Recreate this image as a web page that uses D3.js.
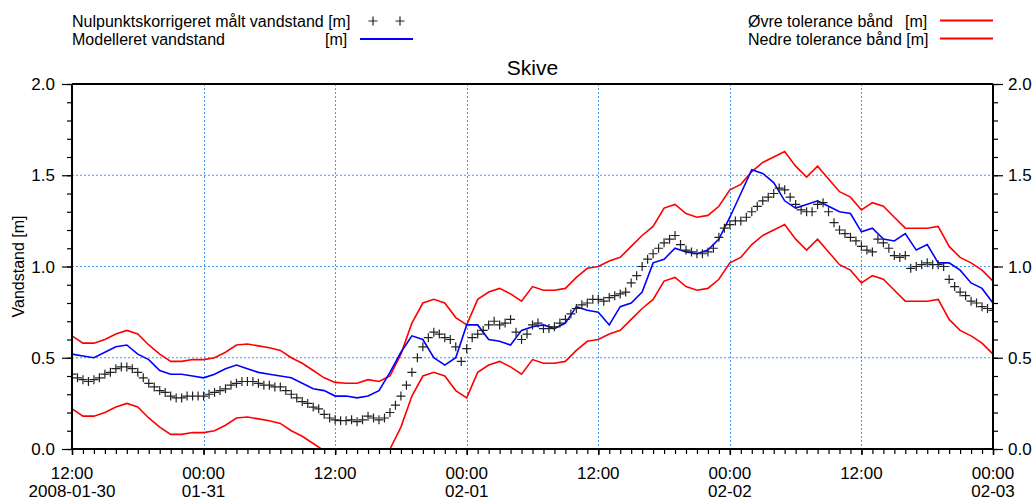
<!DOCTYPE html>
<html><head><meta charset="utf-8">
<script src="https://cdn.jsdelivr.net/npm/d3@7"></script>
<style>
html,body{margin:0;padding:0;background:#fff;}
svg text{font-family:"Liberation Sans",Arial,sans-serif;fill:#000;}
</style></head>
<body><svg id="chart" width="1036" height="502"></svg>
<script>
// ---- data ----
const title = "Skive";
const yLabel = "Vandstand [m]";
const startTime = "2008-01-30T12:00:00";
const endTime = "2008-02-03T00:00:00";
const lineStepHours = 1;      // hourly readings for lines
const measuredStepHours = 0.5; // half-hourly readings for measured points
const legendLabels = ["Nulpunktskorrigeret målt vandstand [m]", "Modelleret vandstand", "Øvre tolerance bånd", "Nedre tolerance bånd [m]"];
const yTickLabels = ["0.0","0.5","1.0","1.5","2.0"];

const upperBand = [0.62,0.58,0.58,0.60,0.63,0.65,0.63,0.57,0.52,0.48,0.48,0.49,0.49,0.50,0.53,0.57,0.575,0.565,0.555,0.54,
0.50,0.47,0.43,0.39,0.365,0.36,0.36,0.38,0.37,0.40,0.52,0.69,0.80,0.82,0.80,0.72,0.68,0.82,0.86,0.88,
0.85,0.81,0.89,0.87,0.87,0.88,0.94,0.99,1.00,1.03,1.05,1.11,1.17,1.22,1.32,1.34,1.29,1.27,1.28,1.33,
1.42,1.45,1.52,1.57,1.60,1.63,1.55,1.49,1.55,1.48,1.41,1.38,1.31,1.35,1.33,1.27,1.21,1.21,1.21,1.22,
1.11,1.05,1.02,0.98,0.92];
const lowerBand = [0.22,0.18,0.18,0.20,0.23,0.25,0.23,0.17,0.12,0.08,0.08,0.09,0.09,0.10,0.13,0.17,0.175,0.165,0.155,0.14,
0.10,0.07,0.03,-0.01,-0.035,-0.04,-0.04,-0.02,-0.03,0.00,0.12,0.29,0.40,0.42,0.40,0.32,0.28,0.42,0.46,0.48,
0.45,0.41,0.49,0.47,0.47,0.48,0.54,0.59,0.60,0.63,0.65,0.71,0.77,0.82,0.92,0.94,0.89,0.87,0.88,0.93,
1.02,1.05,1.12,1.17,1.20,1.23,1.15,1.09,1.15,1.08,1.01,0.98,0.91,0.95,0.93,0.87,0.81,0.81,0.81,0.82,
0.71,0.65,0.62,0.58,0.52];
const modelled = [0.52,0.51,0.50,0.53,0.56,0.57,0.52,0.49,0.43,0.41,0.41,0.40,0.39,0.41,0.44,0.46,0.44,0.42,0.41,0.40,
0.39,0.36,0.33,0.32,0.29,0.29,0.28,0.29,0.32,0.42,0.53,0.62,0.60,0.50,0.46,0.50,0.68,0.68,0.60,0.59,
0.57,0.65,0.67,0.68,0.66,0.69,0.78,0.76,0.75,0.68,0.78,0.80,0.86,1.02,1.04,1.10,1.08,1.07,1.09,1.15,
1.27,1.40,1.53,1.51,1.46,1.36,1.32,1.34,1.36,1.33,1.30,1.29,1.19,1.21,1.15,1.14,1.18,1.09,1.12,1.02,
1.02,0.98,0.91,0.88,0.80];
const measured = [0.41,0.39,0.38,0.37,0.38,0.39,0.41,0.42,0.44,0.45,0.45,0.44,0.42,0.39,0.36,0.34,0.32,0.31,0.29,0.28,
0.28,0.29,0.29,0.29,0.29,0.30,0.31,0.32,0.33,0.35,0.36,0.37,0.37,0.37,0.36,0.35,0.35,0.34,0.34,0.32,
0.30,0.28,0.26,0.25,0.23,0.22,0.19,0.17,0.16,0.155,0.155,0.16,0.15,0.16,0.18,0.17,0.16,0.17,0.20,0.24,
0.29,0.35,0.42,0.50,0.56,0.61,0.64,0.63,0.61,0.60,0.56,0.48,0.55,0.61,0.63,0.65,0.68,0.70,0.68,0.69,
0.71,0.64,0.60,0.63,0.68,0.69,0.66,0.66,0.67,0.69,0.71,0.74,0.77,0.79,0.80,0.82,0.82,0.81,0.83,0.84,
0.85,0.86,0.91,0.95,1.00,1.04,1.07,1.10,1.13,1.15,1.17,1.12,1.09,1.08,1.07,1.07,1.08,1.10,1.16,1.21,
1.23,1.25,1.25,1.27,1.30,1.33,1.36,1.38,1.40,1.43,1.42,1.38,1.34,1.31,1.30,1.30,1.34,1.35,1.30,1.24,
1.20,1.18,1.16,1.14,1.11,1.09,1.08,1.15,1.13,1.10,1.06,1.05,1.06,0.99,1.00,1.01,1.02,1.01,1.01,1.00,
0.93,0.89,0.86,0.84,0.81,0.80,0.78,0.77,0.76];

// ---- layout ----
const svg = d3.select("#chart");
const m = {left:72, right:993, top:84, bottom:449};
const t0 = new Date(startTime), t1 = new Date(endTime);
const x = d3.scaleTime().domain([t0,t1]).range([m.left,m.right]);
const y = d3.scaleLinear().domain([0,2]).range([m.bottom,m.top]);
const H = 3600*1000;
const tAt = (i,step)=> new Date(t0.getTime()+i*step*H);

// grid
const gridColor = "#3d9bf5";
const g = svg.append("g");
[0.5,1.0,1.5].forEach(v=>{
  g.append("line").attr("x1",m.left).attr("x2",m.right).attr("y1",y(v)).attr("y2",y(v))
   .attr("stroke",gridColor).attr("stroke-width",1).attr("stroke-dasharray","2,2");
});
d3.timeHour.every(12).range(new Date(t0.getTime()+1), t1).forEach(d=>{
  const xx = Math.round(x(d))+0.5;
  g.append("line").attr("x1",xx).attr("x2",xx).attr("y1",m.top).attr("y2",m.bottom)
   .attr("stroke",gridColor).attr("stroke-width",1).attr("stroke-dasharray","2,2");
});

// clip
svg.append("clipPath").attr("id","clip").append("rect")
  .attr("x",m.left).attr("y",m.top).attr("width",m.right-m.left).attr("height",m.bottom-m.top);
const plot = svg.append("g").attr("clip-path","url(#clip)");

const lineGen = d3.line().x((d,i)=>x(tAt(i,lineStepHours))).y(d=>y(d));
plot.append("path").datum(upperBand).attr("d",lineGen).attr("fill","none").attr("stroke","#ff0000").attr("stroke-width",1.6);
plot.append("path").datum(lowerBand).attr("d",lineGen).attr("fill","none").attr("stroke","#ff0000").attr("stroke-width",1.6);
plot.append("path").datum(modelled).attr("d",lineGen).attr("fill","none").attr("stroke","#0000ff").attr("stroke-width",1.6);

const plusSize = 4.5;
const plusPath = (cx,cy)=>`M${cx-plusSize},${cy}H${cx+plusSize}M${cx},${cy-plusSize}V${cy+plusSize}`;
plot.append("path")
  .attr("d", measured.map((v,i)=>plusPath(x(tAt(i,measuredStepHours)),y(v))).join(""))
  .attr("fill","none").attr("stroke","#222").attr("stroke-width",1.2);

// axes
const axes = svg.append("g");
const tickFont = 17;
const xMinor = d3.axisBottom(x).ticks(d3.timeHour.every(1)).tickSize(5).tickFormat("");
axes.append("g").attr("transform",`translate(0,${m.bottom})`).call(xMinor)
  .call(s=>{s.select(".domain").remove(); s.selectAll("line").attr("stroke","#000").attr("stroke-width",1.2);});
const xMajor = d3.axisBottom(x).ticks(d3.timeHour.every(12)).tickSize(6).tickFormat("");
axes.append("g").attr("transform",`translate(0,${m.bottom})`).call(xMajor)
  .call(s=>{s.select(".domain").remove(); s.selectAll("line").attr("stroke","#000").attr("stroke-width",1.5);});
const fmtTime = d3.timeFormat("%H:%M"), fmtDate = d3.timeFormat("%m-%d"), fmtFull = d3.timeFormat("%Y-%m-%d");
d3.timeHour.every(12).range(t0, new Date(t1.getTime()+1)).forEach((d,i)=>{
  axes.append("text").attr("x",x(d)).attr("y",479).attr("text-anchor","middle").attr("font-size",tickFont).text(fmtTime(d));
  if (i===0) axes.append("text").attr("x",x(d)).attr("y",497).attr("text-anchor","middle").attr("font-size",tickFont).text(fmtFull(d));
  else if (d.getHours()===0) axes.append("text").attr("x",x(d)).attr("y",497).attr("text-anchor","middle").attr("font-size",tickFont).text(fmtDate(d));
});

// y axes
const yMinorVals = d3.range(0,21).map(k=>k/10);
const yMajorVals = [0,0.5,1,1.5,2];
function yAxisSide(axisFn, xpos, anchor, lblX){
  const gg = axes.append("g").attr("transform",`translate(${xpos},0)`);
  gg.call(axisFn(y).tickValues(yMinorVals).tickSize(5).tickFormat(""))
    .call(s=>{s.select(".domain").remove(); s.selectAll("line").attr("stroke","#000").attr("stroke-width",1.2);});
  const g2 = axes.append("g").attr("transform",`translate(${xpos},0)`);
  g2.call(axisFn(y).tickValues(yMajorVals).tickSize(10).tickFormat(""))
    .call(s=>{s.select(".domain").remove(); s.selectAll("line").attr("stroke","#000").attr("stroke-width",1.2);});
  yMajorVals.forEach((v,k)=>{
    axes.append("text").attr("x",lblX).attr("y",y(v)).attr("dy","0.36em").attr("text-anchor",anchor)
      .attr("font-size",tickFont).text(yTickLabels[k]);
  });
}
yAxisSide(d3.axisLeft, m.left, "end", 55);
yAxisSide(d3.axisRight, m.right, "start", 1008);

// frame
axes.append("line").attr("x1",m.left).attr("x2",m.right).attr("y1",m.top).attr("y2",m.top).attr("stroke","#000").attr("stroke-width",2);
axes.append("line").attr("x1",m.left-1).attr("x2",m.right+1).attr("y1",m.bottom).attr("y2",m.bottom).attr("stroke","#000").attr("stroke-width",2);
axes.append("line").attr("x1",m.left).attr("x2",m.left).attr("y1",m.top).attr("y2",m.bottom).attr("stroke","#000").attr("stroke-width",2);
axes.append("line").attr("x1",m.right).attr("x2",m.right).attr("y1",m.top).attr("y2",m.bottom).attr("stroke","#000").attr("stroke-width",2);

// title
svg.append("text").attr("x",(m.left+m.right)/2).attr("y",75).attr("text-anchor","middle").attr("font-size",21).text(title);
// y label
svg.append("text").attr("transform",`translate(24,${(m.top+m.bottom)/2}) rotate(-90)`).attr("text-anchor","middle").attr("font-size",16).text(yLabel);

// legend
const lg = svg.append("g").attr("font-size",16);
lg.append("text").attr("x",72).attr("y",27).attr("font-size",16).text(legendLabels[0]);
[373,400].forEach(cx=>lg.append("path").attr("d",plusPath(cx,21)).attr("stroke","#222").attr("stroke-width",1.2));
lg.append("text").attr("x",72).attr("y",45).attr("font-size",16).text(legendLabels[1]);
lg.append("text").attr("x",325).attr("y",45).attr("font-size",16).text("[m]");
lg.append("line").attr("x1",360).attr("x2",413).attr("y1",39).attr("y2",39).attr("stroke","#0000ff").attr("stroke-width",2);
lg.append("text").attr("x",748).attr("y",27).attr("font-size",16).text(legendLabels[2]);
lg.append("text").attr("x",905).attr("y",27).attr("font-size",16).text("[m]");
lg.append("text").attr("x",748).attr("y",45).attr("font-size",16).text(legendLabels[3]);
lg.append("line").attr("x1",940).attr("x2",993).attr("y1",20.5).attr("y2",20.5).attr("stroke","#ff0000").attr("stroke-width",2);
lg.append("line").attr("x1",940).attr("x2",993).attr("y1",38.5).attr("y2",38.5).attr("stroke","#ff0000").attr("stroke-width",2);
</script></body></html>
